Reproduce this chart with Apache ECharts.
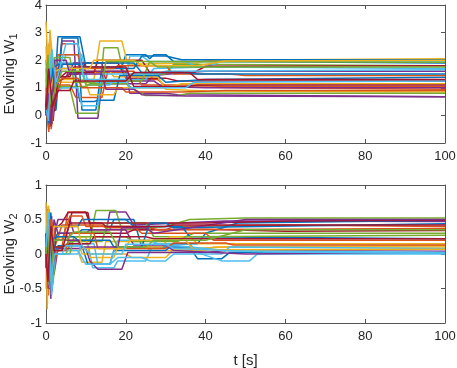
<!DOCTYPE html>
<html lang="en">
  <head>
    <meta charset="UTF-8" />
    <title>Evolving W</title>
    <script src="https://cdn.jsdelivr.net/npm/echarts@6/dist/echarts.min.js"></script>
  </head>
  <body style="margin: 0">
    <div id="main" style="width: 457px; height: 368px"></div>

    <script>
      // MATLAB default colour order
      const lineColors = ['#0072BD', '#D95319', '#EDB120', '#7E2F8E', '#77AC30', '#4DBEEE', '#A2142F']

      const xTicks = [0, 20, 40, 60, 80, 100]
      const w1Ticks = [-1, 0, 1, 2, 3, 4]
      const w2Ticks = [-1, -0.5, 0, 0.5, 1]

      // breakpoints: t0, v0, t1, v1, ...
      const w1Paths = [
        [0, 0.1, 0.6, 1.8, 1.2, 0.3, 2, 0.5, 3, 2.85, 8.5, 2.85, 10, 1.75, 19, 1.75, 20, 2.2, 25, 2.2, 26, 2.05, 27, 2.2, 30, 2.2, 32, 1.95, 45, 1.95, 100, 1.9],
        [0, 0.2, 0.8, 2.6, 1.5, -0.2, 2.5, 0.9, 4, 2.6, 8, 2.6, 9.5, 1.55, 20, 1.55, 21, 1.3, 28, 1.3, 30, 1.05, 50, 1.0, 100, 0.95],
        [0, 3.4, 0.5, 1.8, 1, 2.9, 1.8, 1.2, 2.5, 1.3, 12, 1.3, 13.5, 2.7, 19, 2.7, 20.5, 1.85, 38, 1.9, 40, 2.0, 100, 2.05],
        [0, 0.5, 0.7, -0.5, 1.3, 2.0, 2, 0.3, 4, 2.7, 7, 2.7, 8, -0.1, 13, -0.1, 14, 1.15, 25, 1.15, 27, 1.45, 31, 1.5, 40, 1.6, 100, 1.6],
        [0, 0.0, 0.8, 1.0, 1.4, -0.3, 2.2, 1.9, 3, 1.0, 6, 1.0, 7.5, 0.08, 13, 0.08, 14.5, 2.45, 18, 2.45, 19.5, 1.5, 30, 1.5, 32, 1.85, 100, 1.8],
        [0, 0.2, 0.5, 2.3, 1.2, 0.5, 2, 1.5, 3.5, 1.5, 5, 2.2, 9, 2.2, 10.5, 1.2, 20, 1.2, 21, 2.15, 24, 2.15, 26, 1.95, 35, 1.95, 38, 1.75, 100, 1.7],
        [0, 0.1, 0.5, 1.2, 1.2, -0.4, 2, 2.0, 3, 1.2, 6, 1.5, 8, 1.5, 10, 1.9, 18, 1.9, 20, 1.35, 30, 1.35, 33, 1.25, 100, 1.25],
        [0, 0.3, 0.6, 2.0, 1.3, 0.1, 2.5, 0.2, 4, 2.8, 8, 2.8, 9, 0.2, 12.5, 0.2, 14, 1.7, 22, 1.7, 24, 2.15, 30, 2.15, 34, 2.02, 100, 2.02],
        [0, 0.5, 0.7, -0.6, 1.5, 1.6, 3, 1.1, 6, 1.1, 7.5, 0.65, 14, 0.65, 15.5, 1.6, 22, 1.6, 24, 1.1, 35, 1.1, 45, 1.05, 100, 1.05],
        [0, 2.5, 0.4, 0.8, 1, 3.1, 1.7, 1.9, 2.5, 2.0, 5, 2.0, 6.5, 1.6, 16, 1.6, 17, 1.4, 28, 1.4, 30, 0.95, 40, 0.88, 100, 0.85],
        [0, 0.1, 0.8, 1.5, 1.5, -0.3, 2.3, 1.0, 4, 1.85, 8, 1.85, 10, 1.6, 20, 1.6, 21, 0.8, 30, 0.8, 33, 0.75, 100, 0.68],
        [0, 2.0, 0.6, 0.3, 1.3, 2.1, 2, 0.6, 3, 1.05, 10, 1.05, 11, 1.15, 20, 1.15, 22, 0.95, 25, 0.72, 33, 0.72, 36, 0.8, 100, 0.8],
        [0, 0.4, 0.5, 1.8, 1.3, 0.2, 2.5, 1.9, 9, 1.9, 10, 1.1, 16, 1.1, 17, 1.3, 25, 1.3, 27, 1.7, 40, 1.75, 44, 1.95, 100, 1.97],
        [0, 0.0, 0.8, 2.0, 1.6, 0.0, 3, 1.3, 5, 1.55, 12, 1.55, 13, 2.0, 24, 2.0, 26, 1.55, 37, 1.55, 40, 1.78, 100, 1.8],
        [0, 0.1, 0.6, 1.6, 1.4, 0.5, 2.8, 1.7, 7, 1.7, 8.5, 0.5, 12, 0.5, 13, 0.55, 17, 0.55, 18.5, 1.45, 28, 1.45, 30, 1.2, 40, 1.3, 100, 1.38],
        [0, 1.0, 0.4, -0.2, 1, 1.5, 2, 0.6, 3, 2.2, 8, 2.2, 9, 1.7, 17, 1.7, 18, 1.8, 30, 1.8, 32, 1.5, 46, 1.5, 50, 1.45, 100, 1.45],
        [0, 1.2, 0.6, 2.2, 1.4, 1.8, 3, 1.2, 10, 1.2, 11, 0.75, 17, 0.75, 18, 1.0, 30, 1.0, 34, 1.15, 100, 1.15],
        [0, 0.3, 1, 1.9, 1.8, -0.2, 2.7, 1.4, 5, 1.4, 7, 1.9, 14, 1.9, 15, 1.25, 27, 1.25, 29, 1.05, 40, 1.0, 100, 1.0],
        [0, 1.7, 0.5, 0.2, 1.2, 1.6, 2.2, 2.1, 6, 2.1, 7, 1.2, 12, 1.2, 13, 1.25, 24, 1.25, 26, 1.95, 100, 1.93],
        [0, 0.0, 0.7, 1.2, 1.5, 2.4, 2.5, 0.8, 4, 1.0, 8, 1.0, 9, 0.35, 13, 0.35, 14, 1.5, 28, 1.5, 30, 1.6, 100, 1.65],
        [0, 0.1, 0.5, 2.1, 1.2, 0.1, 2.2, 0.2, 3, 1.4, 6, 1.4, 7, 1.75, 20, 1.75, 22, 1.05, 35, 1.05, 38, 1.1, 100, 1.1],
        [0, 0.2, 0.8, -0.3, 1.7, 1.7, 3, 1.85, 9, 1.85, 10, 1.9, 22, 1.9, 24, 1.55, 34, 1.55, 38, 1.5, 100, 1.5],
        [0, 0.5, 0.6, 1.4, 1.3, -0.5, 2, 0.4, 4, 1.35, 8, 1.35, 9, 1.0, 19, 1.0, 20, 0.85, 34, 0.85, 45, 0.9, 100, 0.9],
        [0, 1.9, 0.6, 2.5, 1.2, 0.9, 2.2, 1.6, 4, 1.7, 11, 1.7, 12, 2.0, 22, 2.0, 24, 1.8, 38, 1.8, 45, 1.97, 100, 2.0],
        [0, 0.0, 0.6, 0.8, 1.3, -0.4, 2.2, 2.0, 5, 2.0, 6, 1.5, 14, 1.5, 15, 0.95, 22, 0.95, 24, 0.75, 35, 0.7, 100, 0.68],
        [0, 1.0, 0.5, 2.2, 1.2, 0.4, 2.4, 1.0, 4, 1.6, 9, 1.6, 10, 1.1, 14, 1.1, 15, 1.95, 26, 1.95, 28, 1.75, 100, 1.75],
        [0, 0.3, 0.6, -0.2, 1.4, 2.3, 2.6, 1.2, 5, 2.6, 8, 2.6, 9.5, 1.3, 20, 1.3, 21, 1.0, 35, 1.0, 37, 1.2, 100, 1.25],
        [0, 0.2, 0.7, 1.7, 1.6, 0.3, 3, 0.9, 6, 0.9, 7, 1.25, 20, 1.25, 22, 1.55, 36, 1.55, 38, 1.3, 100, 1.3],
      ]

      const w2Paths = [
        [0, 0.1, 0.5, 0.65, 1, -0.3, 1.8, 0.2, 3, 0.3, 8, 0.3, 9, 0.35, 16, 0.35, 17, 0.5, 22, 0.5, 24, 0.1, 36, 0.1, 38, -0.07, 44, -0.07, 46, 0.02, 100, 0.02],
        [0, 0.0, 0.6, -0.6, 1.2, 0.4, 2.2, 0.1, 4, 0.1, 5.5, 0.61, 10, 0.61, 11.5, 0.35, 30, 0.35, 32, 0.4, 60, 0.42, 100, 0.4],
        [0, 0.75, 0.3, -0.8, 0.8, 0.5, 1.5, -0.2, 2.5, 0.05, 8, 0.05, 9, -0.12, 14, -0.12, 15, 0.18, 24, 0.18, 26, 0.05, 40, 0.05, 42, 0.1, 100, 0.1],
        [0, 0.0, 0.7, 0.65, 1.4, -0.55, 2.2, 0.3, 3, 0.5, 6, 0.5, 7, 0.3, 15, 0.3, 16, 0.61, 20, 0.61, 22, 0.42, 45, 0.48, 100, 0.47],
        [0, -0.1, 0.5, -0.5, 1.1, 0.6, 1.8, -0.3, 2.5, 0.0, 5, 0.0, 6.5, 0.2, 11, 0.2, 12.5, 0.63, 17.5, 0.63, 19, 0.35, 30, 0.4, 36, 0.5, 50, 0.52, 100, 0.52],
        [0, 0.2, 0.6, 0.55, 1.3, -0.4, 2, 0.2, 3.5, 0.3, 5, 0.3, 6, 0.15, 10.5, 0.15, 11.7, -0.2, 17, -0.2, 18, -0.1, 25, -0.1, 27, 0.15, 36, 0.15, 38, 0.02, 44, -0.1, 51, -0.1, 53, 0.0, 100, 0.0],
        [0, 0.0, 0.6, 0.5, 1.3, -0.6, 2, 0.35, 4, 0.45, 5.5, 0.6, 10.5, 0.6, 11.5, 0.3, 20, 0.3, 22, 0.35, 40, 0.36, 60, 0.33, 100, 0.34],
        [0, 0.3, 0.5, -0.3, 1.2, 0.6, 2, 0.0, 3, 0.12, 9, 0.12, 10.5, -0.15, 16, -0.15, 17, 0.05, 30, 0.05, 32, 0.15, 38, 0.15, 40, 0.3, 48, 0.45, 100, 0.49],
        [0, 0.1, 0.7, 0.4, 1.5, -0.3, 2.2, 0.1, 4, 0.42, 14, 0.42, 15, 0.38, 26, 0.38, 28, 0.35, 100, 0.37],
        [0, -0.5, 0.4, 0.6, 1, -0.2, 1.8, 0.3, 3, 0.2, 8, 0.2, 9, 0.0, 20, 0.0, 21.5, -0.05, 30, -0.05, 32, 0.07, 45, 0.1, 100, 0.12],
        [0, 0.2, 0.6, -0.5, 1.4, 0.55, 2, -0.3, 3, 0.08, 10, 0.08, 11, -0.1, 13, -0.22, 19, -0.22, 20.5, 0.02, 40, 0.02, 45, 0.05, 100, 0.06],
        [0, 0.0, 0.6, 0.7, 1.2, -0.4, 2.3, 0.1, 4, 0.1, 6, 0.18, 14, 0.18, 15.5, 0.45, 25, 0.45, 27, 0.25, 35, 0.25, 37, 0.3, 100, 0.3],
        [0, 0.1, 0.5, -0.45, 1.6, 0.2, 2.5, 0.05, 8, 0.05, 10, -0.15, 16, -0.15, 18, -0.05, 24, -0.05, 26, -0.1, 30, -0.1, 32, 0.0, 44, 0.0, 46, 0.1, 100, 0.08],
        [0, 0.3, 0.7, -0.2, 1.3, 0.45, 2.2, 0.25, 5, 0.25, 6.5, 0.6, 10, 0.6, 11, 0.45, 40, 0.45, 60, 0.48, 100, 0.49],
        [0, 0.0, 0.6, 0.5, 1.2, -0.3, 2.5, 0.4, 8, 0.4, 9, 0.5, 20, 0.5, 22, 0.4, 34, 0.4, 36, 0.25, 100, 0.22],
        [0, 0.2, 0.5, -0.3, 1.3, 0.5, 2.5, 0.2, 4, 0.2, 6, 0.55, 9, 0.55, 10, 0.4, 22, 0.4, 24, 0.3, 40, 0.3, 42, 0.2, 100, 0.2],
        [0, 0.0, 0.6, 0.4, 1.3, -0.5, 2, 0.2, 4, 0.25, 10, 0.25, 11, -0.05, 17, -0.05, 18, 0.1, 29, 0.1, 31, 0.25, 36, 0.25, 38, 0.15, 100, 0.15],
        [0, -0.2, 0.5, 0.6, 1.2, -0.65, 2, 0.5, 3, 0.3, 10, 0.3, 11, 0.35, 20, 0.35, 22, 0.13, 30, 0.13, 32, 0.05, 50, 0.0, 100, 0.03],
        [0, 0.0, 0.4, -0.3, 1, 0.3, 1.7, -0.45, 2.5, 0.0, 6, 0.0, 7, 0.25, 20, 0.25, 22, 0.18, 33, 0.18, 35, 0.25, 100, 0.27],
        [0, 0.0, 0.6, 0.3, 1.4, -0.6, 2.2, 0.0, 8, 0.0, 9, 0.15, 12, 0.15, 13, -0.15, 16, -0.15, 18, 0.2, 26, 0.2, 28, 0.15, 45, 0.05, 100, 0.02],
        [0, 0.1, 0.5, 0.55, 1, 0.0, 2, 0.1, 4, 0.1, 6, 0.15, 11, 0.15, 12, 0.25, 25, 0.25, 27, 0.22, 100, 0.22],
        [0, -0.2, 0.5, 0.65, 1.5, -0.1, 2.5, 0.25, 7, 0.25, 8, 0.2, 16, 0.2, 17, 0.1, 24, 0.1, 26, 0.45, 30, 0.45, 32, 0.38, 100, 0.44],
        [0, 0.1, 0.4, -0.5, 1, 0.5, 2, -0.1, 3, 0.05, 5, 0.05, 6, 0.3, 12, 0.3, 13, 0.08, 30, 0.08, 32, 0.16, 45, 0.16, 47, 0.13, 100, 0.13],
        [0, 0.3, 0.6, 0.7, 1.2, 0.0, 2, 0.4, 8, 0.4, 9, 0.08, 20, 0.08, 21, 0.2, 35, 0.2, 37, 0.06, 100, 0.07],
        [0, 0.0, 0.8, 0.5, 1.6, -0.3, 2.4, 0.2, 8, 0.2, 9, 0.1, 18, 0.1, 19, 0.38, 25, 0.38, 27, 0.3, 50, 0.5, 100, 0.5],
        [0, 0.0, 0.5, 0.5, 1.1, -0.4, 2, 0.2, 5, 0.2, 7, 0.32, 16, 0.32, 18, 0.1, 25, 0.1, 27, 0.2, 40, 0.2, 50, 0.35, 100, 0.35],
        [0, 0.1, 0.6, 0.6, 1.3, -0.4, 2.1, 0.0, 4, 0.0, 5, 0.12, 9, 0.12, 11, 0.0, 19, 0.0, 20, 0.14, 30, 0.14, 32, 0.08, 55, 0.03, 100, 0.01],
        [0, 0.0, 0.5, -0.4, 1.2, 0.4, 2, 0.05, 4, 0.05, 6, 0.45, 14, 0.45, 15, 0.4, 30, 0.4, 32, 0.42, 100, 0.42],
      ]

      const font = 'Liberation Sans, Arial, Helvetica, sans-serif'
      const axisColor = '#555'
      const textColor = '#262626'

      function toPairs(flat) {
        const out = []
        for (let i = 0; i < flat.length; i += 2) out.push([flat[i], flat[i + 1]])
        return out
      }

      function xAxisPair(gridIndex, withName) {
        const base = {
          type: 'value',
          gridIndex: gridIndex,
          min: xTicks[0],
          max: xTicks[xTicks.length - 1],
          interval: xTicks[1] - xTicks[0],
          splitLine: { show: false },
          axisLine: { show: true, onZero: false, lineStyle: { color: axisColor, width: 1 } },
          axisTick: { show: true, inside: true, length: 4, lineStyle: { color: axisColor } },
        }
        return [
          Object.assign({}, base, {
            position: 'bottom',
            axisLabel: { color: textColor, fontSize: 13, fontFamily: font, margin: 7 },
            name: withName ? 't [s]' : '',
            nameLocation: 'middle',
            nameGap: 30,
            nameMoveOverlap: false,
            nameTextStyle: { color: textColor, fontSize: 15, fontFamily: font },
          }),
          Object.assign({}, base, { position: 'top', axisLabel: { show: false } }),
        ]
      }

      function yAxisPair(gridIndex, ticks, sub) {
        const base = {
          type: 'value',
          gridIndex: gridIndex,
          min: ticks[0],
          max: ticks[ticks.length - 1],
          interval: ticks[1] - ticks[0],
          splitLine: { show: false },
          axisLine: { show: true, onZero: false, lineStyle: { color: axisColor, width: 1 } },
          axisTick: { show: true, inside: true, length: 4, lineStyle: { color: axisColor } },
        }
        return [
          Object.assign({}, base, {
            position: 'left',
            axisLabel: { color: textColor, fontSize: 13, fontFamily: font, margin: 4 },
            name: 'Evolving W{s|' + sub + '}',
            nameLocation: 'middle',
            nameGap: 27,
            nameMoveOverlap: false,
            nameTextStyle: {
              color: textColor,
              fontSize: 15,
              fontFamily: font,
              rich: { s: { fontSize: 11, fontFamily: font, color: textColor, padding: [8, 0, 0, 0] } },
            },
          }),
          Object.assign({}, base, { position: 'right', axisLabel: { show: false } }),
        ]
      }

      function makeSeries(paths, axisIndex) {
        return paths.map((p, i) => ({
          type: 'line',
          xAxisIndex: axisIndex,
          yAxisIndex: axisIndex,
          data: toPairs(p),
          showSymbol: false,
          symbol: 'none',
          silent: true,
          lineStyle: { width: 1.5, color: lineColors[i % lineColors.length] },
        }))
      }

      const chart = echarts.init(document.getElementById('main'))
      chart.setOption({
        animation: false,
        backgroundColor: '#fff',
        grid: [
          { left: 46, top: 5, width: 399, height: 138, outerBoundsMode: 'none' },
          { left: 46, top: 185, width: 399, height: 138, outerBoundsMode: 'none' },
        ],
        xAxis: [...xAxisPair(0, false), ...xAxisPair(1, true)],
        yAxis: [...yAxisPair(0, w1Ticks, '1'), ...yAxisPair(1, w2Ticks, '2')],
        series: [...makeSeries(w1Paths, 0), ...makeSeries(w2Paths, 2)],
      })
    </script>
  </body>
</html>
